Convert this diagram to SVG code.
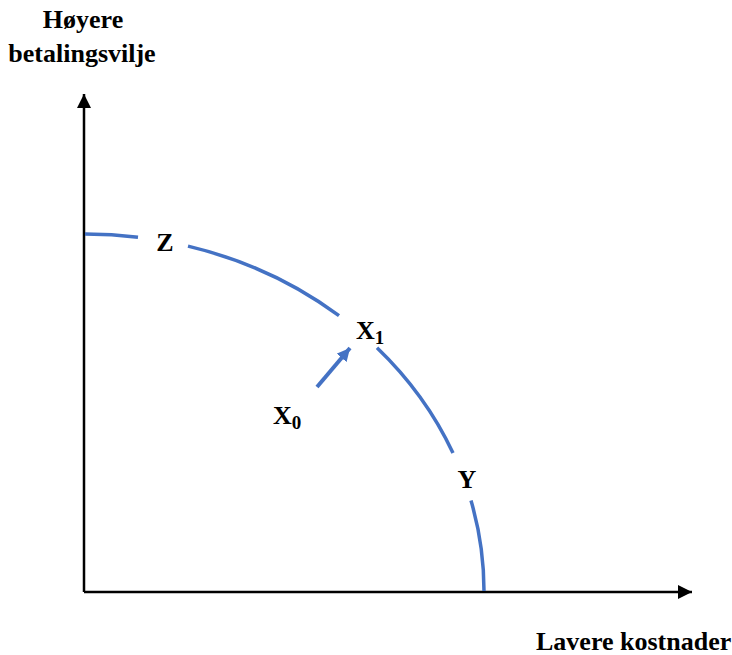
<svg xmlns="http://www.w3.org/2000/svg" width="732" height="655" viewBox="0 0 732 655">
<style>
.t{font-family:"Liberation Serif","Times New Roman",serif;font-weight:bold;fill:#000;font-size:26px}
.s{font-size:19px}
.ax{stroke:#000;stroke-width:2.5;fill:none}
.cv{stroke:#4472C4;stroke-width:3.5;fill:none}
</style>
<defs>
<marker id="ah" viewBox="0 0 10 10" refX="10" refY="5" markerWidth="14" markerHeight="14" markerUnits="userSpaceOnUse" orient="auto"><path d="M0,0 L10,5 L0,10 z" fill="#000"/></marker>
<marker id="bh" viewBox="0 0 10 10" refX="10" refY="5" markerWidth="13" markerHeight="13" markerUnits="userSpaceOnUse" orient="auto"><path d="M0,0 L10,5 L0,10 z" fill="#4472C4"/></marker>
</defs>
<g id="axes">
<path class="ax" d="M84,592 L84,94" marker-end="url(#ah)"/>
<path class="ax" d="M84,592 L692,592" marker-end="url(#ah)"/>
</g>
<g id="curve">
<path class="cv" d="M85,234 A399,357 0 0 1 138,237.2"/>
<path class="cv" d="M188,246.1 A399,357 0 0 1 339,315.7"/>
<path class="cv" d="M377,347.7 A399,357 0 0 1 453,453"/>
<path class="cv" d="M471,500.6 A399,357 0 0 1 484,591"/>
</g>
<g id="connectors">
<path d="M317,387 L350,348" stroke="#4472C4" stroke-width="4" fill="none" marker-end="url(#bh)"/>
</g>
<g id="labels">
<text class="t" x="83" y="28" text-anchor="middle">Høyere</text>
<text class="t" x="82" y="62" text-anchor="middle">betalingsvilje</text>
<text class="t" x="536" y="650">Lavere kostnader</text>
<text class="t" x="165" y="251" text-anchor="middle">Z</text>
<text class="t" x="467" y="488" text-anchor="middle">Y</text>
<text class="t" x="356" y="339">X<tspan class="s" dy="5">1</tspan></text>
<text class="t" x="273" y="424">X<tspan class="s" dy="5">0</tspan></text>
</g>
</svg>
